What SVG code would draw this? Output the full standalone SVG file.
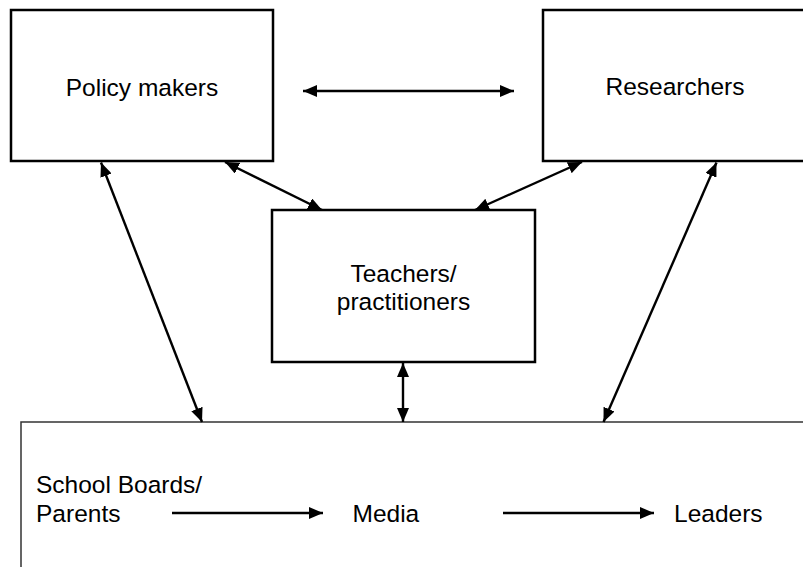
<svg xmlns="http://www.w3.org/2000/svg" width="803" height="567" viewBox="0 0 803 567">
<style>
.box{fill:#fff;stroke:#000;stroke-width:2.5}
.outer{fill:#fff;stroke:#333;stroke-width:1.5}
.t{font-family:"Liberation Sans",Arial,sans-serif;font-size:24.5px;fill:#000}
.c{stroke:#000;stroke-width:2.4;fill:none}
</style>
<defs>
<marker id="ah" markerUnits="userSpaceOnUse" markerWidth="14" markerHeight="12" refX="14" refY="6" orient="auto-start-reverse" viewBox="0 0 14 12">
<path d="M0,0 L14,6 L0,12 Z" fill="#000"/>
</marker>
</defs>
<g id="bottom">
<rect class="outer" x="21" y="422" width="800" height="200"/>
<text class="t" x="36" y="493">School Boards/</text>
<text class="t" x="36" y="522">Parents</text>
<text class="t" x="352.5" y="522">Media</text>
<text class="t" x="674" y="522">Leaders</text>
</g>
<g id="policy">
<rect class="box" x="11" y="10" width="262" height="151"/>
<text class="t" x="142" y="96" text-anchor="middle">Policy makers</text>
</g>
<g id="researchers">
<rect class="box" x="543" y="10" width="265" height="151"/>
<text class="t" x="675" y="95" text-anchor="middle">Researchers</text>
</g>
<g id="teachers">
<rect class="box" x="272" y="210" width="263" height="152"/>
<text class="t" x="403.5" y="282" text-anchor="middle">Teachers/</text>
<text class="t" x="403.5" y="310" text-anchor="middle">practitioners</text>
</g>
<g id="connectors">
<line class="c" x1="303" y1="91" x2="514" y2="91" marker-start="url(#ah)" marker-end="url(#ah)"/>
<line class="c" x1="225" y1="162" x2="322" y2="210" marker-start="url(#ah)" marker-end="url(#ah)"/>
<line class="c" x1="582" y1="162" x2="475" y2="210" marker-start="url(#ah)" marker-end="url(#ah)"/>
<line class="c" x1="101" y1="162.5" x2="202" y2="422" marker-start="url(#ah)" marker-end="url(#ah)"/>
<line class="c" x1="716.5" y1="162.5" x2="603.5" y2="422" stroke-width="3" marker-start="url(#ah)" marker-end="url(#ah)"/>
<line class="c" x1="403" y1="363" x2="403" y2="422" stroke-width="2.8" marker-start="url(#ah)" marker-end="url(#ah)"/>
<line class="c" x1="172" y1="513" x2="323" y2="513" stroke-width="3.2" marker-end="url(#ah)"/>
<line class="c" x1="503" y1="513" x2="654" y2="513" stroke-width="3.2" marker-end="url(#ah)"/>
</g>
</svg>
